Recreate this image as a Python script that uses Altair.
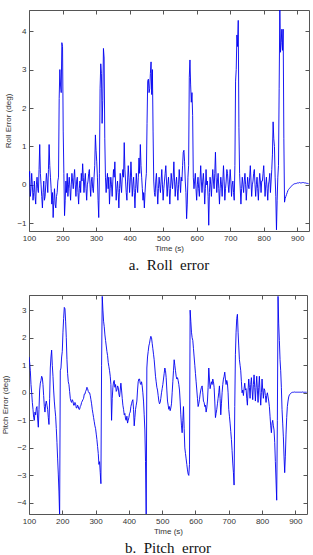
import altair as alt
import pandas as pd

# sampling grid (seconds)
t_start = 100
t_step = 2

roll_err = [
    0.2, 0.35, -0.3, -0.1, 0.3, 0.0, -0.4, -0.2, 0.1, -0.3, -0.5, 0.0, 0.2, -0.1, -0.2, 0.4, 1.05, 0.3, 0.0, -0.3,
    -0.6, -0.2, 0.1, -0.4, -0.3, 0.0, 0.3, 0.1, -0.2, 0.4, 1.05, 0.5, 0.2, -0.1, -0.5, -0.2, -0.85, -0.4, -0.1, -0.5,
    -0.6, -0.3, -0.2, 0.1, 0.2, 2.25, 3.0, 2.6, 2.4, 3.7, 3.6, 1.4, 0.3, -0.8, -0.4, 0.1, -0.2, 0.3, -0.3, 0.0,
    0.2, -0.1, -0.4, 0.0, 0.3, 0.1, -0.1, 0.2, 0.4, 0.0, -0.3, 0.1, 0.2, -0.2, -0.5, -0.1, 0.1, -0.2, 0.3, 0.1,
    0.55, 0.2, -0.2, 0.1, 0.3, -0.1, -0.4, 0.0, 0.1, 0.3, 0.4, 0.0, -0.3, 0.1, 0.2, -0.1, -0.2, 0.2, 0.5, 1.3,
    0.9, 0.6, 0.2, -0.4, -0.85, 0.3, 2.5, 3.15, 2.9, 1.6, 2.2, 3.55, 3.3, 1.2, 0.2, -0.2, 0.1, 0.3, -0.1, 0.2,
    -0.5, -0.1, 0.2, 0.0, -0.3, 0.1, 0.4, 0.2, 0.6, 0.1, -0.4, -0.1, 0.1, -0.2, -0.6, -0.1, 0.3, 0.0, -0.2, 0.2,
    0.4, 0.2, 1.1, 0.4, 0.1, -0.2, -0.4, 0.1, 0.5, 0.2, -0.2, 0.1, 0.6, 0.2, -0.3, 0.0, 0.2, -0.2, -0.6, -0.1,
    0.3, 0.0, -0.2, 0.2, 0.7, 0.3, 1.05, 0.5, 0.2, -0.1, -0.4, -0.2, -0.6, -0.2, 0.1, 0.3, 1.6, 2.7, 2.75, 2.4,
    2.5, 2.9, 3.2, 2.35, 3.0, 1.4, 0.1, -0.2, -0.3, 0.1, 0.3, -0.1, -0.5, -0.1, 0.2, 0.0, -0.2, 0.1, 0.4, 0.0,
    -0.4, -0.1, 0.1, 0.3, 0.5, 0.1, -0.3, 0.0, 0.2, -0.1, -0.5, -0.1, 0.3, 0.1, -0.1, 0.2, 0.6, 0.1, -0.3, 0.0,
    0.2, -0.1, -0.4, 0.0, 0.4, 0.1, -0.2, 0.2, 0.1, 0.5, 0.85, 0.9, 0.6, 0.1, -0.2, -0.88, -0.5, 0.2, 0.5, 2.8,
    3.25, 2.6, 2.15, 2.4, 1.8, 0.2, -0.1, 0.1, 0.3, -0.1, -0.4, 0.0, 0.2, -0.1, -0.3, 0.1, 0.5, 0.1, -0.2, 0.1,
    0.3, 0.0, -0.5, -0.1, 0.4, 0.0, 0.1, -0.3, -1.05, -0.2, 0.2, 0.0, -0.3, 0.1, 0.4, 0.1, -0.1, 0.3, 0.85, 0.2,
    -0.2, 0.1, 0.3, -0.1, -0.5, -0.1, 0.2, 0.0, -0.3, 0.1, 0.5, 0.1, -0.4, -0.1, 0.1, 0.4, 0.3, 0.0, -0.2, 0.1,
    0.4, 0.1, -0.3, 0.0, 0.1, -0.2, -0.4, 0.5, 2.7, 3.0, 3.9, 3.6, 4.28, 1.5, 0.3, -0.1, -0.5, -0.1, 0.2, 0.0,
    -0.2, 0.1, 0.3, 0.0, -0.4, -0.1, 0.2, 0.0, -0.1, 0.2, 0.5, 0.1, -0.3, 0.0, 0.1, 0.3, 0.4, 0.0, -0.3, 0.0,
    0.2, -0.1, -0.4, 0.0, 0.3, 0.1, -0.2, 0.1, 0.1, 0.3, 0.5, 0.1, -0.3, 0.0, 0.2, -0.1, -0.4, 0.0, 0.1, 0.3,
    -0.2, 0.1, 0.4, 0.8, 1.64, 1.2, 1.0, 0.2, -0.3, -1.17, -0.4, 0.2, 0.5, 2.5, 4.6, 3.45, 3.7, 4.05, 3.5, 4.05,
    1.2, -0.45, -0.35, -0.3, -0.25, -0.2, -0.15, -0.12, -0.1, -0.08, -0.06, -0.04, -0.02, 0.0, 0.01, 0.02, 0.03, 0.03, 0.04, 0.04,
    0.05, 0.05, 0.05, 0.06, 0.06, 0.05, 0.05, 0.06, 0.06, 0.06, 0.06, 0.05, 0.05, 0.05, 0.04, 0.04, 0.03, 0.03,
]

pitch_err = [
    1.3, 1.1, 0.8, 0.3, 0.0, -0.35, -0.6, -0.9, -1.0, -0.7, -0.8, -0.55, -0.5, -0.95, -1.25, -0.6, 0.1, 0.35, 0.45, 0.6,
    0.55, 0.3, -0.1, -0.5, -0.7, -0.4, -0.3, -0.45, -0.6, -0.9, -1.15, -0.2, 0.9, 1.3, 1.55, 1.0, 0.6, 0.1, -0.3, -0.6,
    -0.85, -1.3, -1.8, -2.4, -2.95, -3.6, -4.5, 0.8, 0.9, 1.3, 1.5, 2.2, 2.7, 3.1, 3.05, 2.6, 2.0, 1.2, 0.7, 0.4,
    0.3, 0.05, -0.2, -0.3, -0.35, -0.25, -0.3, -0.45, -0.45, -0.35, -0.4, -0.55, -0.55, -0.45, -0.5, -0.6, -0.6, -0.5, -0.45, -0.35,
    -0.3, -0.25, -0.2, -0.05, -0.05, 0.05, 0.1, 0.2, 0.15, 0.05, 0.0, 0.0, -0.1, -0.25, -0.4, -0.6, -0.75, -0.9, -1.05, -1.2,
    -1.3, -1.5, -1.7, -1.95, -2.2, -2.6, -2.5, -2.9, -3.3, 1.0, 3.5, 3.0, 2.6, 2.4, 2.1, 1.9, 1.7, 1.5, 1.35, 1.1,
    0.95, 0.8, 0.6, 0.3, -1.0, -0.2, 0.2, 0.4, 0.45, 0.2, 0.3, 0.05, 0.1, 0.25, 0.2, -0.05, -0.15, 0.1, 0.35, 0.1,
    -0.2, -0.45, -0.6, -0.8, -0.75, -0.95, -1.0, -0.85, -1.1, -1.0, -0.9, -0.75, -0.7, -0.5, -0.4, -0.3, -0.25, -0.6, -1.2, -0.9,
    -0.6, -0.45, -0.3, 0.1, 0.4, 0.5, 0.5, 0.35, 0.3, 0.4, 0.25, 0.0, -0.3, -0.8, -1.35, -2.5, -4.5, 0.9, 1.3, 1.5,
    1.7, 1.8, 1.95, 2.05, 2.0, 1.8, 1.6, 1.4, 1.2, 0.9, 0.6, 0.4, 0.2, 0.1, -0.1, -0.3, -0.4, -0.35, -0.2, 0.0,
    0.15, 0.3, 0.5, 0.7, 0.9, 0.8, 0.55, 0.1, -0.3, -0.45, -0.6, -0.5, -0.65, -0.55, -0.4, 0.0, 0.4, 0.8, 1.2, 1.0,
    0.8, 0.6, 0.5, 0.55, 0.45, 0.3, 0.1, -0.3, -0.8, -1.2, -1.45, -1.0, -0.5, -1.3, -2.0, -2.2, -2.4, -2.6, -2.8, -2.95,
    -3.0, -2.6, 3.0, 2.6, 2.2, 2.0, 1.9, 1.6, 1.3, 1.0, 0.7, 0.4, 0.1, -0.2, -0.5, -0.4, -0.25, -0.05, 0.1, 0.2,
    0.25, 0.0, -0.3, -0.35, -0.5, -0.45, -0.7, -0.55, -0.3, 0.2, 0.9, 0.5, 0.15, 0.3, 0.4, 0.3, 0.5, 0.4, 0.2, -0.3,
    -0.9, -0.75, -0.6, -0.4, -0.2, 0.0, 0.25, -0.2, -0.8, -0.4, 0.0, 0.3, 0.5, 0.6, 0.75, 0.5, 0.3, 0.45, 0.35, 0.0,
    -0.6, -0.85, -1.1, -1.4, -1.7, -2.1, -2.55, -2.9, -3.35, -0.5, 1.4, 2.2, 2.7, 2.85, 2.2, 1.7, 1.2, 1.0, 0.8, 0.4,
    0.0, 0.1, -0.1, 0.15, 0.35, 0.1, 0.15, -0.2, -0.45, 0.1, 0.5, 0.2, -0.2, 0.3, 0.55, 0.1, -0.25, 0.3, 0.65, 0.2,
    -0.3, 0.2, 0.6, 0.1, -0.35, 0.2, 0.6, 0.0, -0.45, 0.0, 0.5, 0.1, -0.2, 0.15, 0.1, -0.1, -0.35, -0.1, 0.0, -0.15,
    -0.3, -0.5, -0.85, -1.2, -1.45, -1.1, -1.0, -1.2, -1.35, -1.8, -2.5, -3.2, -3.9, -1.0, 3.5, 2.5, 1.9, 1.2, 0.8, 0.2,
    -0.6, -1.1, -1.6, -2.3, -2.9, -2.3, -1.5, -0.9, -0.5, -0.3, -0.15, -0.08, -0.05, -0.02, 0.0, 0.01, 0.02, 0.02, 0.02, 0.03,
    0.02, 0.03, 0.02, 0.02, 0.03, 0.02, 0.02, 0.03, 0.02, 0.02, 0.02, 0.03, 0.02, 0.02, 0.02, 0.02, 0.02, 0.02,
]

x_ticks = [100, 200, 300, 400, 500, 600, 700, 800, 900]
roll_ticks = [-1, 0, 1, 2, 3, 4]
pitch_ticks = [-4, -3, -2, -1, 0, 1, 2, 3]
x_domain = [100, 935]
roll_domain = [-1.2, 4.55]
pitch_domain = [-4.4, 3.55]

time_s = [t_start + t_step * i for i in range(len(roll_err))]
df = pd.DataFrame({"t": time_s, "roll": roll_err, "pitch": pitch_err})

LINE = "#0000f0"
AX = "#555555"


def panel(field, ytitle, ydomain, yticks, caption, w, h, title_pad):
    xs = alt.Scale(domain=x_domain, nice=False, zero=False)
    ys = alt.Scale(domain=ydomain, nice=False, zero=False)
    line = alt.Chart(df).mark_line(color=LINE, strokeWidth=0.9, clip=True).encode(
        x=alt.X("t:Q", scale=xs, axis=alt.Axis(
            values=x_ticks, title="Time (s)", orient="bottom", offset=-4,
            tickSize=4, domain=False, labelPadding=3, titlePadding=2,
            labelFlush=False)),
        y=alt.Y(f"{field}:Q", scale=ys, axis=alt.Axis(
            values=yticks, title=ytitle, orient="left", offset=-4,
            tickSize=4, domain=False, labelPadding=3, titlePadding=title_pad,
            labelFlush=False)),
    )
    ticks2 = alt.Chart(df).mark_line(opacity=0, clip=True).encode(
        x=alt.X("t:Q", scale=xs, axis=alt.Axis(
            values=x_ticks, title=None, orient="top", offset=-4, tickSize=4,
            domain=False, labels=False)),
        y=alt.Y(f"{field}:Q", scale=ys, axis=alt.Axis(
            values=yticks, title=None, orient="right", offset=-4, tickSize=4,
            domain=False, labels=False)),
    )
    return alt.layer(line, ticks2).resolve_axis(
        x="independent", y="independent"
    ).properties(
        width=w, height=h,
        title=alt.TitleParams(caption, orient="bottom", anchor="middle",
                              frame="group", offset=6, font="Liberation Serif",
                              fontSize=15, fontWeight="normal", color="#111111"),
    )


top = panel("roll", "Roll Error (deg)", roll_domain, roll_ticks,
            "a.\u00a0 Roll\u00a0 error", 280, 221, 4)
bottom = panel("pitch", "Pitch Error (deg)", pitch_domain, pitch_ticks,
               "b.\u00a0 Pitch\u00a0 error", 278, 219, 7)

chart = alt.vconcat(top, bottom, spacing=20).properties(
    padding={"left": 1, "top": 9, "right": 2, "bottom": 0}
).configure_view(
    stroke=AX, strokeWidth=1
).configure_axis(
    labelFont="Liberation Sans", labelFontSize=8, labelColor="#333333",
    titleFont="Liberation Sans", titleFontSize=8, titleFontWeight="normal",
    titleColor="#333333", tickColor=AX, grid=False,
)

chart.save("out.html", embed_options={"renderer": "svg", "actions": False})
